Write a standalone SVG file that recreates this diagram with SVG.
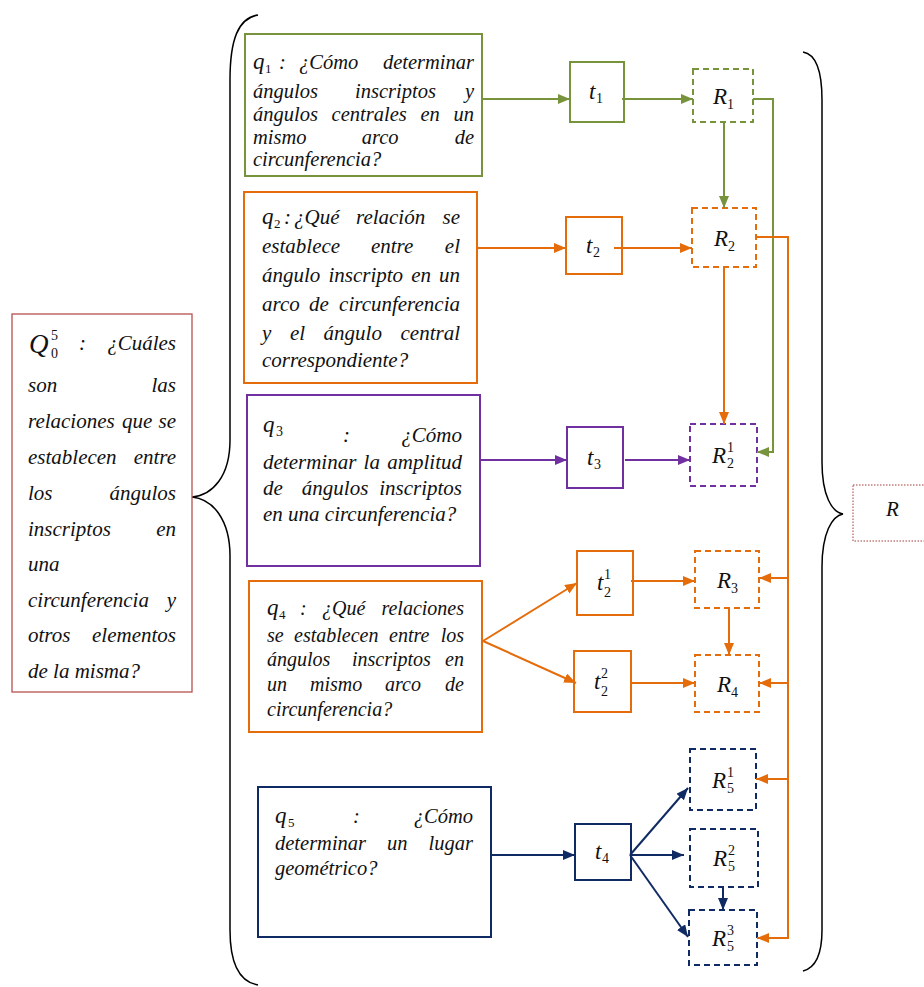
<svg xmlns="http://www.w3.org/2000/svg" width="924" height="987" viewBox="0 0 924 987">
<defs>
<style>
text{font-family:"Liberation Serif","Times New Roman",serif;font-style:italic;fill:#111}
.n{fill:#fff;stroke-width:2}
.d{fill:#fff;stroke-width:2;stroke-dasharray:6 4}
.g{stroke:#77933c}.o{stroke:#e46c0a}.p{stroke:#7030a0}.b{stroke:#102a63}
.c{fill:none;stroke-width:2}
.br{fill:none;stroke:#000;stroke-width:1.5}
.f1{font-size:20.5px}.f2{font-size:21px}.f3{font-size:21px}.f4{font-size:20px}.f5{font-size:20.5px}.f0{font-size:21px}
.lab{font-size:23px}.sm{font-size:14px;font-style:normal}
</style>
<marker id="ag" markerUnits="userSpaceOnUse" markerWidth="13" markerHeight="11" refX="12" refY="5" orient="auto"><path d="M0,0 L12,5 L0,10 z" fill="#77933c"/></marker>
<marker id="ao" markerUnits="userSpaceOnUse" markerWidth="13" markerHeight="11" refX="12" refY="5" orient="auto"><path d="M0,0 L12,5 L0,10 z" fill="#e46c0a"/></marker>
<marker id="ap" markerUnits="userSpaceOnUse" markerWidth="13" markerHeight="11" refX="12" refY="5" orient="auto"><path d="M0,0 L12,5 L0,10 z" fill="#7030a0"/></marker>
<marker id="ab" markerUnits="userSpaceOnUse" markerWidth="13" markerHeight="11" refX="12" refY="5" orient="auto"><path d="M0,0 L12,5 L0,10 z" fill="#102a63"/></marker>
</defs>
<rect width="924" height="987" fill="#fff"/>

<g id="braces">
<path class="br" d="M258,15 C238,18 230,40 230,80 L230,440 C230,476 213,495 192,497 C213,499 230,520 230,556 L230,930 C230,966 240,982 258,985"/>
<path class="br" d="M803,52 C815,54 822,70 822,100 L822,462 C822,496 832,512 843,514 C832,516 822,533 822,567 L822,930 C822,956 815,968 803,971"/>
</g>

<g id="Q0">
<rect x="12" y="314" width="180" height="378" fill="#fff" stroke="#b5524f" stroke-width="1.3"/>
<text style="font-size:27px" x="29" y="353">Q</text>
<text class="sm" x="51" y="340">5</text>
<text class="sm" x="51" y="358">0</text>
<text class="f0" x="79" y="350">:</text>
<text class="f0" x="176" y="350" text-anchor="end">¿Cuáles</text>
<text class="f0" x="28" y="392">son</text><text class="f0" x="176" y="392" text-anchor="end">las</text>
<text class="f0" x="28" y="428">relaciones</text><text class="f0" x="122" y="428">que</text><text class="f0" x="176" y="428" text-anchor="end">se</text>
<text class="f0" x="28" y="464">establecen</text><text class="f0" x="176" y="464" text-anchor="end">entre</text>
<text class="f0" x="28" y="500">los</text><text class="f0" x="176" y="500" text-anchor="end">ángulos</text>
<text class="f0" x="28" y="536">inscriptos</text><text class="f0" x="176" y="536" text-anchor="end">en</text>
<text class="f0" x="28" y="571">una</text>
<text class="f0" x="28" y="607">circunferencia</text><text class="f0" x="176" y="607" text-anchor="end">y</text>
<text class="f0" x="28" y="642">otros</text><text class="f0" x="176" y="642" text-anchor="end">elementos</text>
<text class="f0" x="28" y="678">de la misma?</text>
</g>

<g id="q1">
<rect class="n g" x="245" y="34" width="237" height="142"/>
<text class="lab" x="253" y="69">q</text><text class="sm" style="font-size:13px" x="265" y="73">1</text>
<text class="f1" x="279" y="69">:</text><text class="f1" x="299" y="69">¿Cómo</text><text class="f1" x="474" y="69" text-anchor="end">determinar</text>
<text class="f1" x="253" y="98">ángulos</text><text class="f1" x="355" y="98">inscriptos</text><text class="f1" x="474" y="98" text-anchor="end">y</text>
<text class="f1" x="253" y="121">ángulos</text><text class="f1" x="331.6" y="121">centrales</text><text class="f1" x="420.4" y="121">en</text><text class="f1" x="474" y="121" text-anchor="end">un</text>
<text class="f1" x="253" y="144">mismo</text><text class="f1" x="361.7" y="144">arco</text><text class="f1" x="474" y="144" text-anchor="end">de</text>
<text class="f1" x="253" y="166">circunferencia?</text>
</g>

<g id="q2">
<rect class="n o" x="244" y="192" width="233" height="191"/>
<text class="lab" x="262" y="224">q</text><text class="sm" style="font-size:13px" x="274" y="228">2</text>
<text class="f2" x="284" y="224">:</text><text class="f2" x="294" y="224">¿Qué</text><text class="f2" x="356" y="224">relación</text><text class="f2" x="460" y="224" text-anchor="end">se</text>
<text class="f2" x="262" y="253">establece</text><text class="f2" x="370.9" y="253">entre</text><text class="f2" x="460" y="253" text-anchor="end">el</text>
<text class="f2" x="262" y="282">ángulo</text><text class="f2" x="328.4" y="282">inscripto</text><text class="f2" x="411.2" y="282">en</text><text class="f2" x="460" y="282" text-anchor="end">un</text>
<text class="f2" x="262" y="311">arco</text><text class="f2" x="309.1" y="311">de</text><text class="f2" x="460" y="311" text-anchor="end">circunferencia</text>
<text class="f2" x="262" y="340">y</text><text class="f2" x="289.9" y="340">el</text><text class="f2" x="323.6" y="340">ángulo</text><text class="f2" x="460" y="340" text-anchor="end">central</text>
<text class="f2" x="262" y="367">correspondiente?</text>
</g>

<g id="q3">
<rect class="n p" x="247" y="395" width="233" height="171"/>
<text class="lab" x="263" y="432">q</text><text class="sm" x="276" y="436">3</text>
<text class="f3" x="343" y="442">:</text><text class="f3" x="462" y="442" text-anchor="end">¿Cómo</text>
<text class="f3" x="263" y="469">determinar</text><text class="f3" x="363.6" y="469">la</text><text class="f3" x="462" y="469" text-anchor="end">amplitud</text>
<text class="f3" x="263" y="495">de</text><text class="f3" x="301.8" y="495">ángulos</text><text class="f3" x="462" y="495" text-anchor="end">inscriptos</text>
<text class="f3" x="263" y="521">en una circunferencia?</text>
</g>

<g id="q4">
<rect class="n o" x="249" y="581" width="233" height="151"/>
<text class="lab" x="267" y="615">q</text><text class="sm" style="font-size:13px" x="279" y="619">4</text>
<text class="f4" x="300" y="615">:</text><text class="f4" x="322" y="615">¿Qué</text><text class="f4" x="464" y="615" text-anchor="end">relaciones</text>
<text class="f4" x="267" y="642">se</text><text class="f4" x="294" y="642">establecen</text><text class="f4" x="389" y="642">entre</text><text class="f4" x="464" y="642" text-anchor="end">los</text>
<text class="f4" x="267" y="666">ángulos</text><text class="f4" x="352" y="666">inscriptos</text><text class="f4" x="464" y="666" text-anchor="end">en</text>
<text class="f4" x="267" y="691">un</text><text class="f4" x="310" y="691">mismo</text><text class="f4" x="385" y="691">arco</text><text class="f4" x="464" y="691" text-anchor="end">de</text>
<text class="f4" x="267" y="716">circunferencia?</text>
</g>

<g id="q5">
<rect class="n b" x="258" y="787" width="233" height="150"/>
<text class="lab" x="275" y="823">q</text><text class="sm" style="font-size:13px" x="288" y="827">5</text>
<text class="f5" x="353" y="823">:</text><text class="f5" x="473" y="823" text-anchor="end">¿Cómo</text>
<text class="f5" x="275" y="850">determinar</text><text class="f5" x="387" y="850">un</text><text class="f5" x="473" y="850" text-anchor="end">lugar</text>
<text class="f5" x="275" y="875">geométrico?</text>
</g>

<g id="t1"><rect class="n g" x="570" y="62" width="54" height="60"/><text class="lab" x="589" y="99">t</text><text class="sm" x="596" y="103">1</text></g>
<g id="t2"><rect class="n o" x="566" y="217" width="56" height="57"/><text class="lab" x="586" y="253">t</text><text class="sm" x="593" y="257">2</text></g>
<g id="t3"><rect class="n p" x="567" y="427" width="56" height="61"/><text class="lab" x="587" y="465">t</text><text class="sm" x="594" y="469">3</text></g>
<g id="t2_1"><rect class="n o" x="577" y="551" width="56" height="64"/><text class="lab" x="597" y="590">t</text><text class="sm" x="604" y="579">1</text><text class="sm" x="604" y="597">2</text></g>
<g id="t2_2"><rect class="n o" x="574" y="651" width="57" height="61"/><text class="lab" x="594" y="689">t</text><text class="sm" x="601" y="678">2</text><text class="sm" x="601" y="696">2</text></g>
<g id="t4"><rect class="n b" x="575" y="824" width="56" height="56"/><text class="lab" x="595" y="859">t</text><text class="sm" x="602" y="863">4</text></g>

<g id="R1"><rect class="d g" x="693" y="69" width="60" height="53"/><text class="lab" x="713" y="104">R</text><text class="sm" x="727" y="109">1</text></g>
<g id="R2"><rect class="d o" x="692" y="208" width="64" height="59"/><text class="lab" x="714" y="246">R</text><text class="sm" x="728" y="251">2</text></g>
<g id="R2_1"><rect class="d p" x="690" y="424" width="67" height="62"/><text class="lab" x="712" y="463">R</text><text class="sm" x="727" y="452">1</text><text class="sm" x="727" y="468">2</text></g>
<g id="R3"><rect class="d o" x="695" y="551" width="64" height="57"/><text class="lab" x="717" y="588">R</text><text class="sm" x="731" y="593">3</text></g>
<g id="R4"><rect class="d o" x="695" y="655" width="64" height="57"/><text class="lab" x="717" y="692">R</text><text class="sm" x="731" y="697">4</text></g>
<g id="R5_1"><rect class="d b" x="690" y="749" width="66" height="61"/><text class="lab" x="712" y="788">R</text><text class="sm" x="727" y="777">1</text><text class="sm" x="727" y="793">5</text></g>
<g id="R5_2"><rect class="d b" x="690" y="829" width="68" height="58"/><text class="lab" x="713" y="866">R</text><text class="sm" x="728" y="855">2</text><text class="sm" x="728" y="871">5</text></g>
<g id="R5_3"><rect class="d b" x="689" y="910" width="68" height="55"/><text class="lab" x="712" y="946">R</text><text class="sm" x="727" y="935">3</text><text class="sm" x="727" y="951">5</text></g>

<g id="R">
<rect x="853" y="485" width="80" height="56" fill="#fff" stroke="#a33a3a" stroke-width="1" stroke-dasharray="1.5 1.5"/>
<text style="font-size:21px" x="886" y="516">R</text>
</g>

<g id="connectors">
<path class="c g" d="M482,99 H570" marker-end="url(#ag)"/>
<path class="c g" d="M622,99 H693" marker-end="url(#ag)"/>
<path class="c g" d="M724,122 V208" marker-end="url(#ag)"/>
<path class="c g" d="M753,99 H773 V452 H757" marker-end="url(#ag)"/>
<path class="c o" d="M477,248 H566" marker-end="url(#ao)"/>
<path class="c o" d="M614,248 H692" marker-end="url(#ao)"/>
<path class="c o" d="M724,267 V424" marker-end="url(#ao)"/>
<path class="c o" d="M756,237 H788 V938 H757" marker-end="url(#ao)"/>
<path class="c o" d="M788,578 H759" marker-end="url(#ao)"/>
<path class="c o" d="M788,683 H759" marker-end="url(#ao)"/>
<path class="c o" d="M788,779 H756" marker-end="url(#ao)"/>
<path class="c o" d="M483,641 L577,583" marker-end="url(#ao)"/>
<path class="c o" d="M483,641 L576,683" marker-end="url(#ao)"/>
<path class="c o" d="M631,581 H695" marker-end="url(#ao)"/>
<path class="c o" d="M631,683 H695" marker-end="url(#ao)"/>
<path class="c o" d="M729,608 V655" marker-end="url(#ao)"/>
<path class="c p" d="M480,460 H567" marker-end="url(#ap)"/>
<path class="c p" d="M625,460 H690" marker-end="url(#ap)"/>
<path class="c b" d="M491,855 H575" marker-end="url(#ab)"/>
<path class="c b" d="M630,855 L688,788" marker-end="url(#ab)"/>
<path class="c b" d="M630,855 H684" marker-end="url(#ab)"/>
<path class="c b" d="M630,855 L688,937" marker-end="url(#ab)"/>
<path class="c b" d="M723,887 V910" marker-end="url(#ab)"/>
</g>
</svg>
